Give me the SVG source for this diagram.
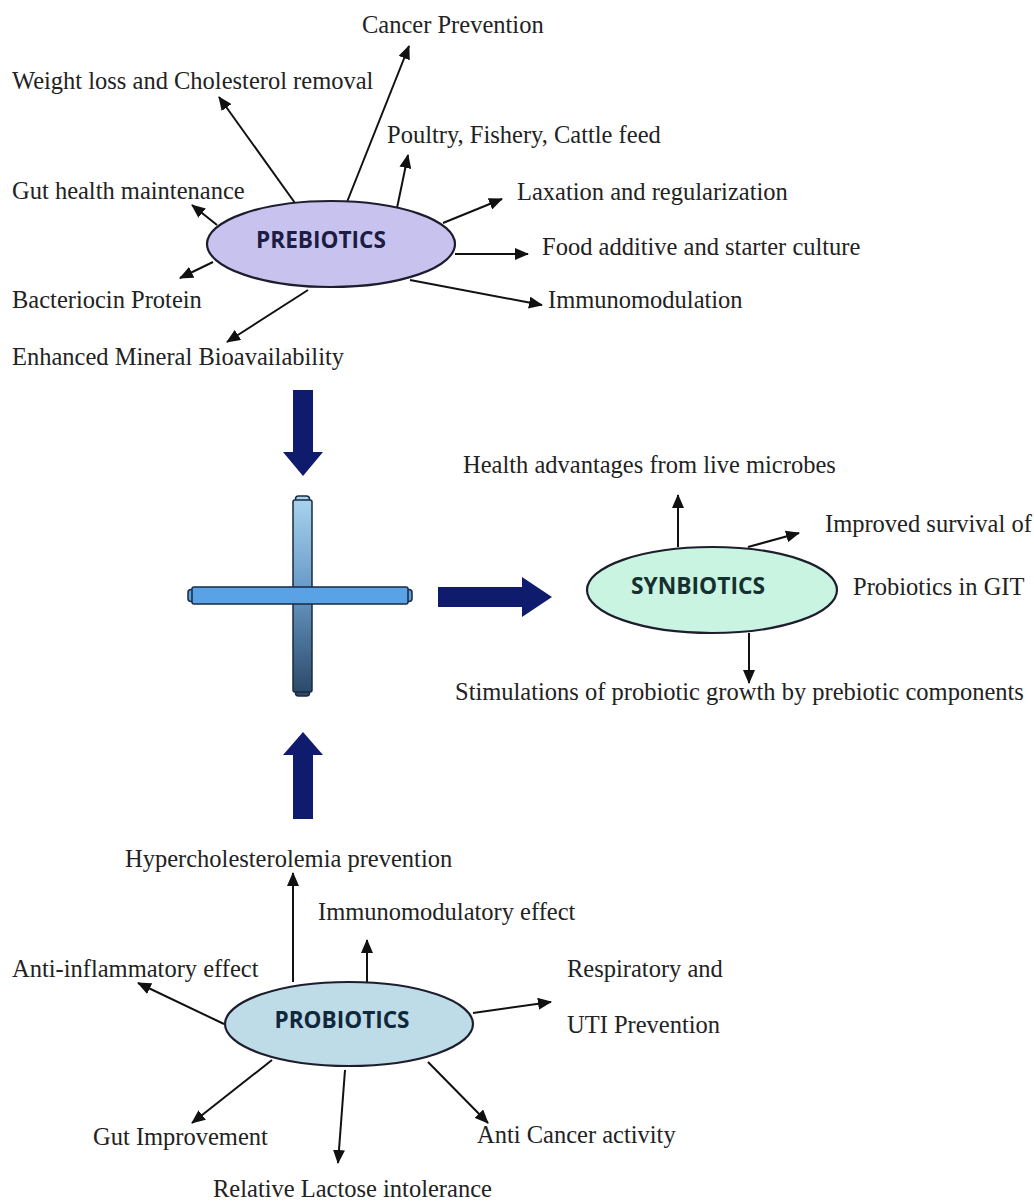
<svg xmlns="http://www.w3.org/2000/svg" width="1034" height="1203" viewBox="0 0 1034 1203">
<style>
.lbl{font-family:"Liberation Serif","Times New Roman",serif;font-size:24.5px;fill:#222}
.hub{font-family:"Open Sans","Liberation Sans",sans-serif;font-weight:700;font-size:24px}
.ln{stroke:#111;stroke-width:2;fill:none;marker-end:url(#ah)}
.ell{stroke:#1d1d2d;stroke-width:2.2}
.big{fill:#0f1c6e}
</style>
<defs>
<marker id="ah" markerUnits="userSpaceOnUse" markerWidth="14" markerHeight="12" refX="13" refY="6" orient="auto">
<path d="M0,0 L14,6 L0,12 z" fill="#111"/>
</marker>
<linearGradient id="vg" x1="0" y1="0" x2="0" y2="1">
<stop offset="0" stop-color="#a6d2ec"/>
<stop offset="0.45" stop-color="#6a9cc8"/>
<stop offset="1" stop-color="#2c4a6a"/>
</linearGradient>
</defs>
<rect width="1034" height="1203" fill="#fff"/>

<g id="connectors">
<line class="ln" x1="295" y1="203" x2="219" y2="97"/>
<line class="ln" x1="347" y1="202" x2="409" y2="46"/>
<line class="ln" x1="397" y1="208" x2="408" y2="155"/>
<line class="ln" x1="217" y1="225" x2="192" y2="205"/>
<line class="ln" x1="443" y1="223" x2="502" y2="199"/>
<line class="ln" x1="455" y1="254" x2="528" y2="254"/>
<line class="ln" x1="213" y1="262" x2="180" y2="278"/>
<line class="ln" x1="410" y1="280" x2="542" y2="305"/>
<line class="ln" x1="308" y1="290" x2="227" y2="342"/>
<line class="ln" x1="678" y1="547" x2="678" y2="495"/>
<line class="ln" x1="748" y1="547" x2="799" y2="533"/>
<line class="ln" x1="749" y1="633" x2="749" y2="683"/>
<line class="ln" x1="293" y1="982" x2="293" y2="873"/>
<line class="ln" x1="367" y1="982" x2="367" y2="940"/>
<line class="ln" x1="224" y1="1024" x2="138" y2="983"/>
<line class="ln" x1="473" y1="1013" x2="551" y2="1002"/>
<line class="ln" x1="272" y1="1060" x2="192" y2="1123"/>
<line class="ln" x1="345" y1="1070" x2="338" y2="1163"/>
<line class="ln" x1="428" y1="1062" x2="488" y2="1123"/>
<path id="down-arrow" class="big" d="M293,390 L313,390 L313,452 L323,452 L303,476 L283,452 L293,452 Z"/>
<path id="right-arrow" class="big" d="M438,587 L522,587 L522,577 L552,597 L522,617 L522,607 L438,607 Z"/>
<path id="up-arrow" class="big" d="M293,819 L313,819 L313,755 L323,755 L303,732 L283,755 L293,755 Z"/>
</g>

<g id="plus">
<rect x="295.5" y="496" width="14" height="8" rx="3" fill="#a6d2ec" stroke="#1a2a40" stroke-width="1.5"/>
<rect x="295.5" y="688" width="14" height="8" rx="3" fill="#2c4a6a" stroke="#1a2a40" stroke-width="1.5"/>
<rect x="293" y="500" width="19" height="192" rx="2" fill="url(#vg)" stroke="#1a2a40" stroke-width="1.5"/>
<rect x="188" y="589.5" width="8" height="12" rx="3" fill="#5aa2e6" stroke="#1a2a40" stroke-width="1.5"/>
<rect x="404" y="589.5" width="8" height="12" rx="3" fill="#5aa2e6" stroke="#1a2a40" stroke-width="1.5"/>
<rect x="192" y="587" width="216" height="17" rx="2" fill="#5aa2e6" stroke="#1a2a40" stroke-width="1.5"/>
</g>

<g id="prebiotics">
<ellipse class="ell" cx="331" cy="244" rx="124" ry="43" fill="#c8c3ee"/>
<text class="hub" x="321" y="248" text-anchor="middle" fill="#1c1c44" textLength="130" lengthAdjust="spacingAndGlyphs">PREBIOTICS</text>
</g>
<g id="synbiotics">
<ellipse class="ell" cx="712" cy="590" rx="125" ry="43" fill="#c9f4e1"/>
<text class="hub" x="698" y="594" text-anchor="middle" fill="#163030" textLength="134" lengthAdjust="spacingAndGlyphs">SYNBIOTICS</text>
</g>
<g id="probiotics">
<ellipse class="ell" cx="349" cy="1024" rx="124" ry="42" fill="#bedce8"/>
<text class="hub" x="342" y="1028" text-anchor="middle" fill="#10283a" textLength="135" lengthAdjust="spacingAndGlyphs">PROBIOTICS</text>
</g>

<g id="labels">
<text class="lbl" x="362" y="33">Cancer Prevention</text>
<text class="lbl" x="12" y="89">Weight loss and Cholesterol removal</text>
<text class="lbl" x="387" y="143">Poultry, Fishery, Cattle feed</text>
<text class="lbl" x="12" y="199">Gut health maintenance</text>
<text class="lbl" x="517" y="200">Laxation and regularization</text>
<text class="lbl" x="542" y="255">Food additive and starter culture</text>
<text class="lbl" x="12" y="308">Bacteriocin Protein</text>
<text class="lbl" x="548" y="308">Immunomodulation</text>
<text class="lbl" x="12" y="365">Enhanced Mineral Bioavailability</text>
<text class="lbl" x="463" y="473">Health advantages from live microbes</text>
<text class="lbl" x="825" y="532">Improved survival of</text>
<text class="lbl" x="853" y="595">Probiotics in GIT</text>
<text class="lbl" x="455" y="700">Stimulations of probiotic growth by prebiotic components</text>
<text class="lbl" x="125" y="867">Hypercholesterolemia prevention</text>
<text class="lbl" x="318" y="920">Immunomodulatory effect</text>
<text class="lbl" x="12" y="977">Anti-inflammatory effect</text>
<text class="lbl" x="567" y="977">Respiratory and</text>
<text class="lbl" x="567" y="1033">UTI Prevention</text>
<text class="lbl" x="93" y="1145">Gut Improvement</text>
<text class="lbl" x="477" y="1143">Anti Cancer activity</text>
<text class="lbl" x="213" y="1197">Relative Lactose intolerance</text>
</g>
</svg>
